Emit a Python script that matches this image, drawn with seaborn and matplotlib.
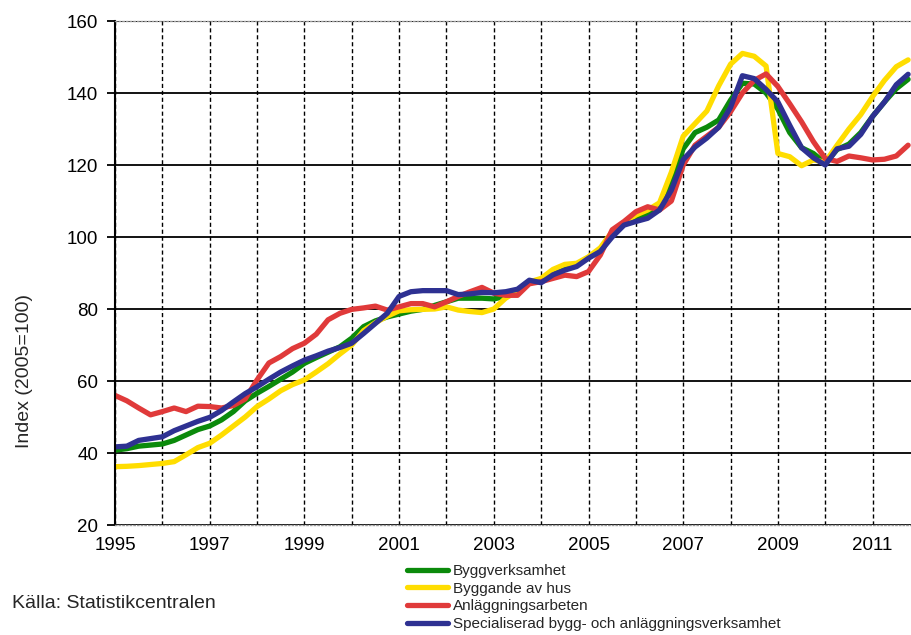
import matplotlib

matplotlib.use("Agg")

import matplotlib.pyplot as plt
import pandas as pd
import seaborn as sns
from matplotlib.lines import Line2D


# quarterly index values (2005=100)
quarters = pd.date_range("1995-01-01", "2011-10-01", freq="QS")

byggverksamhet = [
	40.8, 41.2, 41.9, 42.2, 42.5, 43.5, 45.0, 46.5, 47.5, 49.2, 51.5, 54.5,
	56.6, 58.5, 60.5, 62.5, 64.9, 66.5, 68.0, 69.5, 71.9, 75.1, 76.7, 77.8,
	78.6, 79.4, 79.9, 81.0, 82.0, 83.0, 83.0, 83.0, 82.8, 83.5, 85.0, 87.5,
	87.8, 89.8, 91.2, 92.2, 94.3, 96.5, 100.5, 103.5, 105.0, 106.3, 108.5, 115.0,
	124.5, 129.0, 130.5, 132.5, 138.0, 142.7, 142.5, 140.0, 135.5, 129.0, 124.8, 123.2,
	120.5, 124.3, 125.8, 129.0, 133.5, 137.5, 141.2, 143.8,
]
byggande_av_hus = [
	36.2, 36.3, 36.5, 36.8, 37.1, 37.6, 39.5, 41.5, 42.7, 45.0, 47.5, 50.0,
	52.9, 55.0, 57.3, 59.0, 60.3, 62.5, 64.8, 67.5, 70.0, 74.0, 76.2, 78.0,
	79.5, 79.8, 79.9, 80.0, 80.6, 79.7, 79.3, 79.0, 80.0, 83.0, 85.0, 87.5,
	88.5, 91.0, 92.4, 92.7, 94.5, 97.0, 101.5, 104.0, 106.1, 107.5, 109.5, 118.0,
	128.0, 131.5, 135.0, 142.0, 148.0, 151.0, 150.2, 147.5, 123.2, 122.3, 119.8, 121.4,
	120.8, 125.5, 130.0, 134.0, 139.0, 143.5, 147.3, 149.2,
]
anlaggningsarbeten = [
	56.0, 54.5, 52.5, 50.6, 51.5, 52.5, 51.5, 53.0, 52.9, 52.5, 53.2, 55.0,
	60.3, 65.0, 66.8, 69.0, 70.5, 73.0, 77.0, 78.8, 79.9, 80.3, 80.8, 79.7,
	80.6, 81.5, 81.5, 80.6, 82.0, 83.5, 84.8, 86.0, 84.4, 83.8, 83.8, 87.0,
	87.6, 88.5, 89.4, 89.0, 90.4, 95.0, 102.0, 104.3, 107.0, 108.4, 107.5, 110.0,
	120.0, 125.5, 128.0, 130.5, 134.8, 140.0, 143.5, 145.3, 141.8, 137.0, 132.0, 126.5,
	121.8, 121.0, 122.5, 122.0, 121.4, 121.6, 122.5, 125.5,
]
specialiserad = [
	41.7, 41.9, 43.5, 44.0, 44.5, 46.2, 47.5, 48.8, 49.9, 51.8, 54.2, 56.5,
	58.4, 60.5, 62.5, 64.2, 65.8, 67.0, 68.3, 69.3, 70.5, 73.2, 76.0, 78.8,
	83.5, 84.8, 85.1, 85.1, 85.1, 84.0, 84.2, 84.6, 84.5, 84.8, 85.5, 88.0,
	87.3, 89.5, 90.8, 91.8, 94.1, 96.0, 100.0, 103.3, 104.3, 105.2, 107.5, 113.0,
	121.5, 125.0, 127.5, 130.5, 136.0, 144.8, 144.0, 141.0, 137.5, 131.0, 124.8, 122.0,
	120.0, 124.5, 125.2, 128.5, 133.5, 137.5, 142.3, 145.2,
]

series_names = [
	"Byggverksamhet",
	"Byggande av hus",
	"Anläggningsarbeten",
	"Specialiserad bygg- och anläggningsverksamhet",
]
series_colors = ["#0b8a0b", "#ffdd00", "#e03a3a", "#2e3192"]
year_ticks = list(range(1995, 2012))
y_ticks = [20, 40, 60, 80, 100, 120, 140, 160]


def build_frame():
	wide = pd.DataFrame({
		"tid": quarters.year + (quarters.month - 1) / 12,
		series_names[0]: byggverksamhet,
		series_names[1]: byggande_av_hus,
		series_names[2]: anlaggningsarbeten,
		series_names[3]: specialiserad,
	})
	return wide.melt(id_vars="tid", var_name="serie", value_name="index")


def main():
	sns.set_style("white")
	plt.rcParams["font.family"] = ["Liberation Sans", "DejaVu Sans"]

	df = build_frame()

	fig = plt.figure(figsize=(9.11, 6.35), dpi=100)
	ax = fig.add_axes([115 / 911, 1 - 525 / 635, 796 / 911, 504 / 635])

	sns.lineplot(
		data=df, x="tid", y="index", hue="serie", hue_order=series_names,
		palette=series_colors, linewidth=3.8, estimator=None, sort=False,
		legend=False, ax=ax, solid_capstyle="round", solid_joinstyle="round",
	)

	ax.set_xlim(1995, 1995 + 796 / 47.35)
	ax.set_ylim(20, 160)
	ax.set_xticks(year_ticks)
	ax.set_xticklabels([str(y) if y % 2 == 1 else "" for y in year_ticks])
	ax.set_yticks(y_ticks)
	ax.set_xlabel("")
	ax.set_ylabel("")

	ax.grid(axis="x", color="black", linestyle=(0, (3, 2)), linewidth=1.0)
	ax.grid(axis="y", color="black", linestyle="-", linewidth=1.3)
	ax.set_axisbelow(True)

	ax.spines["right"].set_visible(False)
	ax.spines["left"].set_color("black")
	ax.spines["left"].set_linewidth(1.5)
	for side in ("top", "bottom"):
		ax.spines[side].set_color("#999999")
		ax.spines[side].set_linestyle(":")
		ax.spines[side].set_linewidth(1.0)

	ax.tick_params(axis="x", length=0, pad=9, labelsize=13.5, colors="black")
	ax.tick_params(axis="y", length=6, width=1.3, pad=6, labelsize=13.5,
		direction="out", left=True, colors="black")

	fig.text(25 / 911, 1 - 371 / 635, "Index (2005=100)", rotation=90,
		ha="center", va="center", fontsize=14)
	fig.text(12 / 911, 1 - 603 / 635, "Källa: Statistikcentralen",
		ha="left", va="center", fontsize=14)

	handles = [Line2D([0], [0], color=c, linewidth=3.8) for c in series_colors]
	fig.legend(
		handles, series_names, loc="upper left",
		bbox_to_anchor=(407 / 911, 1 - 564 / 635), frameon=False, fontsize=11,
		handlelength=2.7, handletextpad=0.3, labelspacing=0.24,
		borderpad=0, borderaxespad=0,
	)

	fig.savefig("out.png", dpi=100)
	plt.close(fig)


if __name__ == "__main__":
	main()
